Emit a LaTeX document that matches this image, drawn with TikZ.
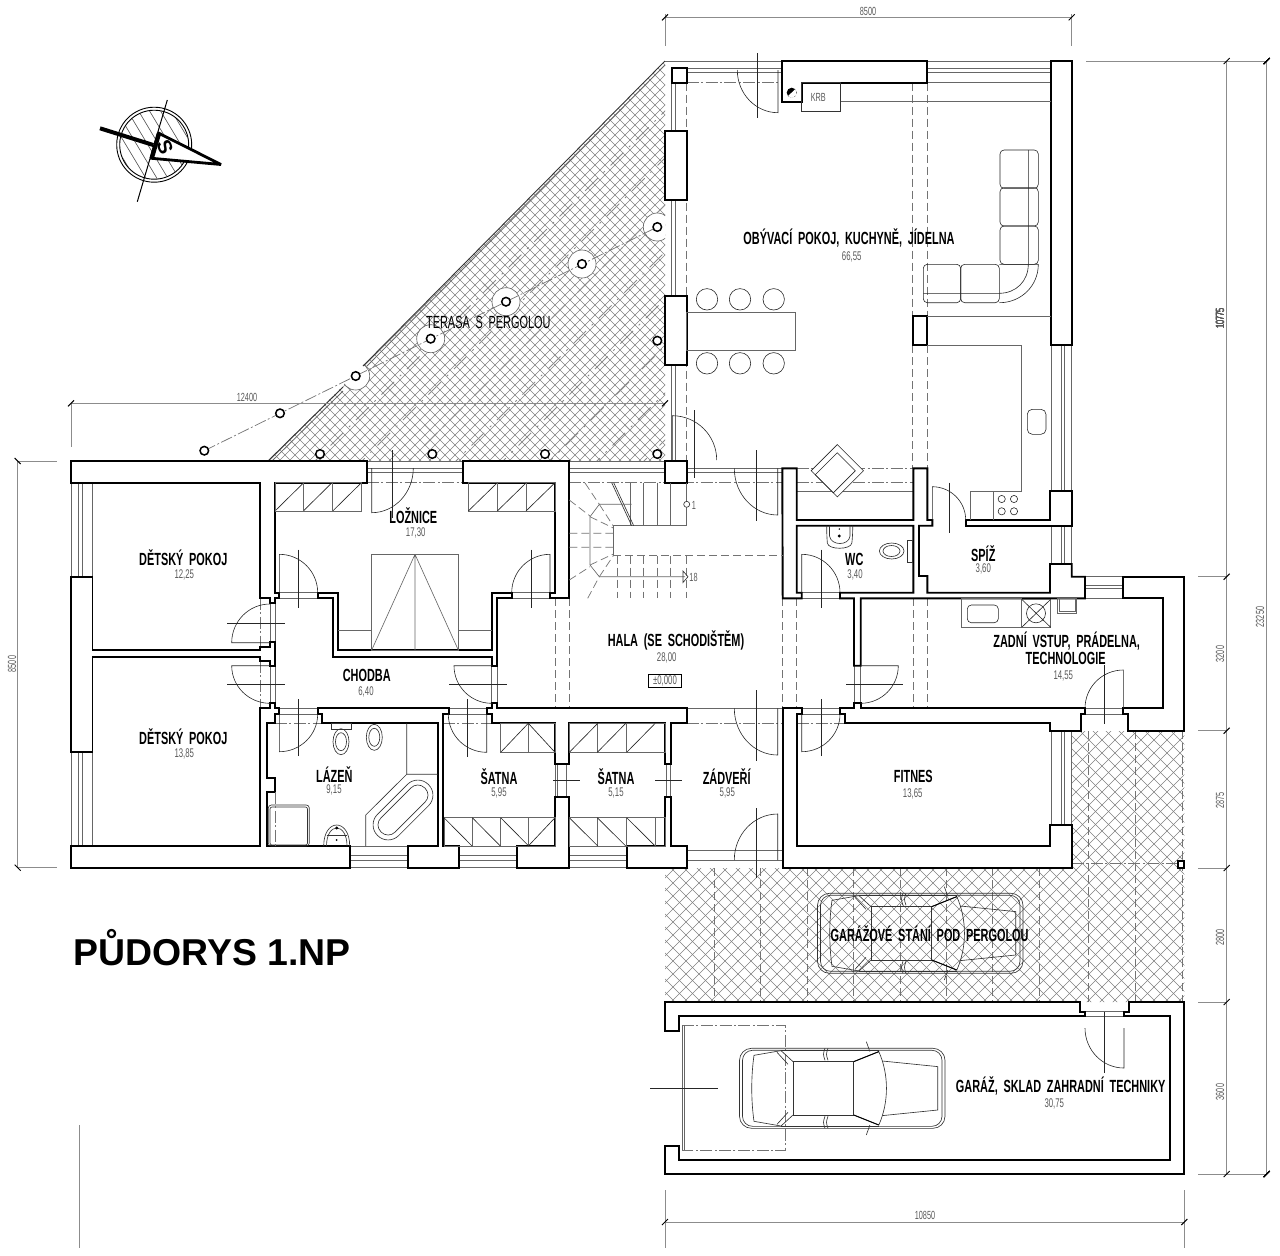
\documentclass[tikz,border=0pt]{standalone}
\usepackage{fontspec}
\setmainfont{Liberation Sans}
\newfontfamily\cadfont[FakeStretch=0.62,WordSpace=1.9]{Liberation Sans}

\tikzset{
  wall/.style = {draw, line width=.95pt, fill=white, line join=miter, miter limit=3},
  fine/.style = {draw=black!60, line width=.32pt},
  thin line/.style = {draw=black!80, line width=.32pt},
  swing/.style = {draw=black!85, line width=.3pt},
  gridline/.style = {draw=black!55, line width=.35pt, dash pattern=on 4pt off 2pt},
  axisline/.style = {draw=black!55, line width=.35pt, dash pattern=on 6pt off 1.2pt on 1pt off 1.2pt},
  hatchline/.style = {draw=black!50, line width=.2pt},
  dimline/.style = {draw=black!45, line width=.35pt},
  post/.style = {draw, line width=.75pt, fill=white},
  room/.style = {font=\cadfont\fontsize{8.8}{9}\selectfont\bfseries, inner sep=0pt},
  area/.style = {font=\cadfont\fontsize{6.3}{6.3}\selectfont, text=black!65, inner sep=0pt},
  dimtext/.style = {font=\cadfont\fontsize{5.9}{6}\selectfont, text=black!65, inner sep=0pt},
  car/.pic = {
    \draw[thin line, rounded corners=6pt] (-102.5,-40) rectangle (103,40);
    \draw[thin line, rounded corners=5pt] (-99.5,-38) rectangle (100,38);
    \draw[thin line] (-49,-26.7) rectangle (11.8,26.7);
    \draw[thin line] (11.8,-26.7) -- (36.8,-36.7) .. controls (47,-14) and (47,14) .. (36.8,36.7) -- (11.8,26.7);
    \draw[draw=black, line width=.5pt] (11.8,-26.7) -- (36.8,-36.7) (11.8,26.7) -- (36.8,36.7);
    \draw[thin line] (-49,-26.7) -- (-61,-37.7) -- (-88,-33) .. controls (-91,-12) and (-91,12) .. (-88,33) -- (-61,37.7) -- (-49,26.7);
    \draw[thin line] (-54,-24) -- (-65,-36) (-54,24) -- (-65,36);
    \draw[thin line] (-61,-37.7) -- (36.8,-37.7) (-61,37.7) -- (36.8,37.7);
    \draw[thin line] (40.4,-27.3) -- (95.7,-21.7) -- (95.7,21.7) -- (40.4,27.3);
    \draw[thin line] (24.3,-46.7) -- (27.9,-36.7) (24.3,46.7) -- (27.9,36.7);
    \draw[thin line] (-17,-40) .. controls (-19,-34) .. (-17,-28) (-14,-40) .. controls (-16,-34) .. (-14,-28);
    \draw[thin line] (-17,40) .. controls (-19,34) .. (-17,28) (-14,40) .. controls (-16,34) .. (-14,28);
  }
}

\newcommand{\doorswing}[6]{%
  \pgfmathsetmacro{\cax}{#3+.5523*(#5-#1)}%
  \pgfmathsetmacro{\cay}{#4+.5523*(#6-#2)}%
  \pgfmathsetmacro{\cbx}{#5+.5523*(#3-#1)}%
  \pgfmathsetmacro{\cby}{#6+.5523*(#4-#2)}%
  \pgfmathsetmacro{\axax}{(#1+#5)/2+1.12*(#3-#1)}%
  \pgfmathsetmacro{\axay}{(#2+#6)/2+1.12*(#4-#2)}%
  \pgfmathsetmacro{\axbx}{(#1+#5)/2-.4*(#3-#1)}%
  \pgfmathsetmacro{\axby}{(#2+#6)/2-.4*(#4-#2)}%
  \draw[swing] (#1,#2) -- (#3,#4) .. controls (\cax,\cay) and (\cbx,\cby) .. (#5,#6);
  \draw[swing] (\axax,\axay) -- (\axbx,\axby);
}
\newcommand{\dimtick}[2]{\draw[line width=.5pt] (#1-3,#2+3) -- (#1+3,#2-3);}

\begin{document}
\begin{tikzpicture}[x=.5pt, y=-.5pt]
    \useasboundingbox (0,0) rectangle (1280,1255);

    \begin{scope}
        \clip (665,61) -- (665,461) -- (268,461) -- cycle;
        \foreach \k in {-200,-190,...,610} \draw[hatchline] (\k,0) -- (\k+1300,1300);
        \foreach \k in {-580,-570,...,-170} \draw[hatchline] (\k,1300) -- (\k+1300,0);
        \foreach \k in {776,823,...,1110} \draw[draw=black!45, line width=.4pt, dash pattern=on 9pt off 4pt on 1pt off 4pt] (\k,0) -- (0,\k);
        \foreach \k in {-100,0,...,500} \draw[draw=black!45, line width=.35pt, dash pattern=on 5pt off 20pt] (\k,0) -- (\k+700,700);
        \foreach \x/\y in {430.7/338.7, 506/301.7, 582/264, 355.7/376, 657.3/227} \draw[fine, fill=white] (\x,\y) circle[radius=14];
    \end{scope}
    \draw[draw=black!80, line width=.45pt] (268,461) -- (343,387) (363,366) -- (665,61);
    \draw[draw=black!60, line width=.4pt] (272,461) -- (343,391) (367,366) -- (665,65);

    \begin{scope}
        \clip (665,868) -- (1071.7,868) -- (1071.7,731) -- (1184.3,731) -- (1184.3,1002) -- (665,1002) -- cycle;
        \foreach \k in {-340,-327,...,460} \draw[hatchline] (\k,0) -- (\k+1300,1300);
        \foreach \k in {230,243,...,890} \draw[hatchline] (\k,1300) -- (\k+1300,0);
        \foreach \x in {714.3,760.7,...,1060} \draw[gridline] (\x,868) -- (\x,1002);
        \foreach \x in {1088.6,1135.7,1182} \draw[gridline] (\x,731) -- (\x,1002);
        \draw[axisline] (1072,863) -- (1178,863);
    \end{scope}

    \draw[axisline] (204.3,450.7) -- (657.3,227);
    \foreach \x/\y in {204.3/450.7, 280/413.3, 355.7/376, 430.7/338.7, 506/301.7, 582/264, 657.3/227, 657.3/340.7, 320/454, 432.3/454, 545/454, 657.3/454} \draw[post] (\x,\y) circle[radius=4.3];

    \foreach \x in {71,78.3,82.3,92.3} \draw[fine] (\x,483) -- (\x,577) (\x,752) -- (\x,846);
    \foreach \y in {846,855,860,867.7} \draw[fine] (350,\y) -- (407.7,\y) (459,\y) -- (516.7,\y) (569.3,\y) -- (626.7,\y);
    \foreach \y in {850,860} \draw[fine] (686.7,\y) -- (782.7,\y);
    \foreach \y in {461,468,472} \draw[fine] (367,\y) -- (463,\y) (569,\y) -- (665,\y);
    \foreach \y in {468.3,472} \draw[fine] (686.7,\y) -- (782.3,\y);
    \foreach \y in {61,68.3,72.7} \draw[fine] (686,\y) -- (782,\y) (927,\y) -- (1051,\y);
    \draw[fine] (665,61) -- (686,61) (927,82.7) -- (1051,82.7);
    \foreach \x in {671.7,675} \draw[fine] (\x,82) -- (\x,131) (\x,200) -- (\x,296) (\x,365) -- (\x,461);
    \foreach \x in {1051.7,1061.7,1064.3,1071.7} \draw[fine] (\x,345) -- (\x,491) (\x,525.7) -- (\x,564) (\x,730.7) -- (\x,825);
    \foreach \y in {576.7,585,588.3,598.3} \draw[fine] (1085,\y) -- (1123.3,\y);
    \foreach \x in {491.7,497.3} \draw[fine] (\x,665.7) -- (\x,703.3);
    \foreach \x in {854,860.7} \draw[fine] (\x,665.7) -- (\x,703.3);
    \foreach \x in {666.7,670} \draw[fine] (\x,764) -- (\x,797.3);
    \foreach \x in {555,557.5,566.7} \draw[fine] (\x,764) -- (\x,830);
    \draw[fine] (275,598) -- (275,642) (275,665.7) -- (275,703.3) (270,603) -- (270,642) (270,665.7) -- (270,703.3);
    \foreach \y in {592.7,598.3} \draw[fine] (279.3,\y) -- (317.7,\y) (511.7,\y) -- (550,\y) (801.7,\y) -- (840,\y);
    \foreach \y in {708.3,714} \draw[fine] (279.3,\y) -- (317.7,\y) (449,\y) -- (486.7,\y) (801.7,\y) -- (840,\y) (1085,\y) -- (1123.3,\y);
    \foreach \y in {1011.7,1016} \draw[fine] (1085,\y) -- (1124,\y);
    \draw[fine] (686.7,708.3) -- (782.7,708.3) (796.7,491) -- (913,491);

    \draw[axisline] (260,598) -- (260,646) (260,661) -- (260,708);
    \draw[axisline] (367,482.7) -- (463,482.7) (569,482.7) -- (782,482.7) (796.7,482.7) -- (913,482.7) (796.7,468.3) -- (913,468.3);
    \draw[axisline] (275,723.3) -- (322,723.3) (443,723.3) -- (491.7,723.3) (686.7,723.3) -- (782.7,723.3) (796.7,723.3) -- (845,723.3);
    \draw[axisline] (686.7,82.7) -- (782,82.7);
    \draw[gridline] (686.7,82.7) -- (686.7,460);
    \draw[gridline] (912.7,82.7) -- (912.7,316) (927.3,82.7) -- (927.3,316) (912.7,345) -- (912.7,468) (927.3,345) -- (927.3,468);
    \foreach \x in {555,569.3,782.7,796.7,913.3,927.3} \draw[gridline] (\x,598.3) -- (\x,708.3);

    \draw[wall] (71,461) -- (367,461) -- (367,483) -- (275,483) -- (275,593) -- (279.3,593) -- (279.3,598.3) -- (275,598.3) -- (275,603.3) -- (270,603.3) -- (270,598.3) -- (260,598.3) -- (260,483) -- (71,483) -- cycle;
    \draw[wall] (71,576.7) -- (92.5,576.7) -- (92.5,650) -- (260,650) -- (260,646.7) -- (270,646.7) -- (270,642) -- (274.7,642) -- (274.7,665.7) -- (270,665.7) -- (270,660.7) -- (260,660.7) -- (260,656.7) -- (92.5,656.7) -- (92.5,751.7) -- (71,751.7) -- cycle;
    \draw[wall] (71,846) -- (260,846) -- (260,708.3) -- (270,708.3) -- (270,703.3) -- (274.7,703.3) -- (274.7,708.3) -- (279.3,708.3) -- (279.3,714) -- (274.7,714) -- (274.7,723.3) -- (266.7,723.3) -- (266.7,777.7) -- (274.7,777.7) -- (274.7,792) -- (266.7,792) -- (266.7,846) -- (350,846) -- (350,867.7) -- (71,867.7) -- cycle;
    \draw[wall] (407.7,867.7) -- (459,867.7) -- (459,846) -- (443.3,846) -- (443.3,714) -- (449,714) -- (449,708.3) -- (317.7,708.3) -- (317.7,714) -- (322.3,714) -- (322.3,723.3) -- (437.7,723.3) -- (437.7,846) -- (407.7,846) -- cycle;
    \draw[wall] (463,461) -- (569.3,461) -- (569.3,598.3) -- (550,598.3) -- (550,592.7) -- (555,592.7) -- (555,483) -- (463,483) -- cycle;
    \draw[wall] (665,461) rectangle (686.7,482.7);
    \draw[wall] (338.3,592.7) -- (320,592.7) -- (317.7,592.7) -- (317.7,598.3) -- (332.7,598.3) -- (332.7,656.7) -- (491.7,656.7) -- (491.7,665.7) -- (497.3,665.7) -- (497.3,598.3) -- (511.7,598.3) -- (511.7,592.7) -- (491.7,592.7) -- (491.7,650) -- (338.3,650) -- cycle;
    \draw[wall] (491.7,703.3) -- (497.3,703.3) -- (497.3,708.3) -- (686.7,708.3) -- (686.7,723.3) -- (670.7,723.3) -- (670.7,764) -- (665,764) -- (665,723.3) -- (569.3,723.3) -- (569.3,764) -- (555,764) -- (555,723.3) -- (491.7,723.3) -- (491.7,714) -- (486.7,714) -- (486.7,708.3) -- (491.7,708.3) -- cycle;
    \draw[wall] (516.7,867.7) -- (569.3,867.7) -- (569.3,797.3) -- (555,797.3) -- (555,846) -- (516.7,846) -- cycle;
    \draw[wall] (626.7,846) -- (665,846) -- (665,797.3) -- (670.7,797.3) -- (670.7,846) -- (686.7,846) -- (686.7,867.7) -- (626.7,867.7) -- cycle;
    \draw[wall] (782.3,468.3) -- (796.7,468.3) -- (796.7,520) -- (913.3,520) -- (913.3,468.3) -- (927.3,468.3) -- (927.3,520) -- (932.3,520) -- (932.3,525.7) -- (919,525.7) -- (919,576) -- (927.3,576) -- (927.3,592.7) -- (1050,592.7) -- (1050,564) -- (1071.7,564) -- (1071.7,576.7) -- (1085,576.7) -- (1085,598.3) -- (860.7,598.3) -- (860.7,665.7) -- (854,665.7) -- (854,598.3) -- (840,598.3) -- (840,592.7) -- (913.3,592.7) -- (913.3,525.7) -- (796.7,525.7) -- (796.7,592.7) -- (801.7,592.7) -- (801.7,598.3) -- (782.7,598.3) -- cycle;
    \draw[wall] (965.7,520) -- (1050,520) -- (1050,491) -- (1071.7,491) -- (1071.7,525.7) -- (965.7,525.7) -- cycle;
    \draw[wall] (1123.3,576.7) -- (1184.3,576.7) -- (1184.3,730.7) -- (1128.3,730.7) -- (1128.3,714) -- (1123.3,714) -- (1123.3,708.3) -- (1163.3,708.3) -- (1163.3,598.3) -- (1123.3,598.3) -- cycle;
    \draw[wall] (782.7,708.3) -- (801.7,708.3) -- (801.7,714) -- (796.7,714) -- (796.7,846) -- (1050,846) -- (1050,825) -- (1071.7,825) -- (1071.7,867.7) -- (782.7,867.7) -- cycle;
    \draw[wall] (840,708.3) -- (854,708.3) -- (854,703.3) -- (860.7,703.3) -- (860.7,708.3) -- (1085,708.3) -- (1085,714) -- (1081,714) -- (1081,730.7) -- (1050,730.7) -- (1050,723.3) -- (845,723.3) -- (845,714) -- (840,714) -- cycle;
    \draw[wall] (782.3,61) -- (927.3,61) -- (927.3,82.7) -- (801.7,82.7) -- (801.7,102.3) -- (782.3,102.3) -- cycle;
    \draw[wall] (1050.7,61) rectangle (1071.7,345);
    \draw[wall] (665,130.7) rectangle (686.7,200);
    \draw[wall] (665,295.7) rectangle (686.7,365.3);
    \draw[wall] (672.3,68.3) rectangle (686.7,82.7);
    \draw[wall] (912.7,316) rectangle (927.3,345);
    \draw[wall] (1177.7,861) rectangle (1184.3,867.7);
    \draw[wall] (665,1030.7) -- (665,1002) -- (1080.4,1002) -- (1080.4,1011.7) -- (1085,1011.7) -- (1085,1016) -- (678.6,1016) -- (678.6,1030.7) -- cycle;
    \draw[wall] (1128.6,1002) -- (1184.3,1002) -- (1184.3,1174) -- (665,1174) -- (665,1145.7) -- (678.6,1145.7) -- (678.6,1160) -- (1170.4,1160) -- (1170.4,1016) -- (1124,1016) -- (1124,1011.7) -- (1128.6,1011.7) -- cycle;
    \fill (791.7,92.7) circle[radius=5];
    \fill[white] (788,96) -- (795.5,89) -- (796.5,95) -- (792,98) -- cycle;

    \doorswing{270}{642.7}{231.7}{642.7}{270}{604}
    \doorswing{270}{665.7}{231.7}{665.7}{270}{703.3}
    \doorswing{279.3}{592.7}{279.3}{554.3}{317.7}{592.7}
    \doorswing{279.3}{714}{279.3}{751.7}{317.7}{714}
    \doorswing{371.7}{468}{371.7}{512.7}{413.3}{468}
    \doorswing{550}{592.7}{550}{554.3}{511.7}{592.7}
    \doorswing{491.7}{665.7}{454}{665.7}{491.7}{703.3}
    \doorswing{486.7}{714}{486.7}{752.3}{448.3}{714}
    \doorswing{777.7}{468.3}{777.7}{515}{734.3}{468.3}
    \doorswing{777.7}{708.3}{777.7}{755}{734.3}{708.3}
    \doorswing{777.7}{860}{777.7}{814}{734.3}{860}
    \doorswing{801.7}{592.7}{801.7}{554.3}{840}{592.7}
    \doorswing{801.7}{714}{801.7}{751.7}{840}{714}
    \doorswing{860.7}{665.7}{898.3}{665.7}{860.7}{703.3}
    \doorswing{1123.3}{708.3}{1123.3}{670}{1085}{708.3}
    \doorswing{932.3}{520}{932.3}{486.7}{965.7}{520}
    \doorswing{672.3}{460}{672.3}{415.7}{716.7}{460}
    \doorswing{778}{70}{778}{112.7}{737.3}{70}
    \doorswing{1124}{1028}{1124}{1068}{1085}{1028}
    \draw[swing] (553,780.7) -- (580,780.7) (655,780.7) -- (681.7,780.7);

    \foreach \x in {275,303.3,332.7} \draw[fine, draw=black!85] (\x,511) -- (\x+28.7,482.7);
    \draw[fine] (275,482.7) rectangle (361.7,511);
    \foreach \x in {303.3,332.7} \draw[fine] (\x,482.7) -- (\x,511);
    \draw[fine] (468.3,482.7) rectangle (555,511);
    \foreach \x in {497.3,526} \draw[fine] (\x,482.7) -- (\x,511);
    \foreach \x in {468.3,497.3,526} \draw[fine, draw=black!85] (\x,511) -- (\x+29,482.7);
    \draw[fine] (500.7,723.3) rectangle (555,752.3) (528.3,723.3) -- (528.3,752.3);
    \draw[fine, draw=black!85] (500.7,752.3) -- (528.3,723.3) -- (555,752.3);
    \draw[fine] (569.3,723.3) rectangle (665,752.3);
    \foreach \x in {597.3,626.7} \draw[fine] (\x,723.3) -- (\x,752.3);
    \foreach \x in {569.3,597.3,626.7} \draw[fine, draw=black!85] (\x,752.3) -- (\x+28.5,723.3);
    \draw[fine] (444,817.7) rectangle (555,846);
    \foreach \x in {472.3,500.7,528.3} \draw[fine] (\x,817.7) -- (\x,846);
    \foreach \x in {444,472.3,500.7} \draw[fine, draw=black!85] (\x,817.7) -- (\x+28,846);
    \draw[fine, draw=black!85] (528.3,846) -- (555,817.7);
    \draw[fine] (569.3,817.7) rectangle (665,846);
    \foreach \x in {597.3,626.7,655} \draw[fine] (\x,817.7) -- (\x,846);
    \foreach \x in {569.3,597.3,626.7} \draw[fine, draw=black!85] (\x,817.7) -- (\x+28.5,846);

    \draw[fine] (371.7,554.3) rectangle (458.3,650);
    \draw[fine] (415,554.3) -- (415,650) (415,554.3) -- (371.7,650) (415,554.3) -- (458.3,650);
    \draw[fine] (338.3,630.7) -- (371.7,630.7) (458.3,630.7) -- (491.7,630.7);

    \draw[thin line] (331.7,723.3) rectangle (351.7,729);
    \draw[thin line] (341,741.7) ellipse[x radius=8, y radius=13] (341,741.7) ellipse[x radius=5.5, y radius=9];
    \draw[thin line] (374.3,737.3) ellipse[x radius=8, y radius=13] (374.3,737.3) ellipse[x radius=5.5, y radius=9];
    \draw[thin line] (406.7,723.3) -- (406.7,774.3) -- (437.7,774.3) (406.7,774.3) -- (365.7,815) -- (365.7,846);
    \draw[thin line, rotate around={45:(403,810)}, rounded corners=7.4pt] (367,795) rectangle (439,825);
    \draw[thin line, rotate around={45:(403,810)}, rounded corners=4.8pt] (372,800) rectangle (434,820);
    \draw[thin line, rounded corners=1.5pt] (268.3,805) rectangle (309.3,846);
    \draw[thin line, rounded corners=1pt] (270,807) rectangle (307.5,845);
    \draw[axisline] (275,792) -- (275,846);
    \draw[thin line] (323.7,846) .. controls (323.7,818) and (349.7,818) .. (349.7,846);
    \draw[thin line] (326.5,846) .. controls (326.5,822) and (347,822) .. (347,846);
    \draw[thin line] (326.5,835) -- (347,835);
    \fill (336.7,828) circle[radius=1.6] (336.7,840) circle[radius=1];

    \draw[thin line] (801.7,82.7) rectangle (840.7,111.7);
    \node (krb) at (818.3,97.7) [dimtext] {KRB};
    \draw[fine] (840.7,101.7) -- (1050.7,101.7);

    \foreach \y in {150,187.7,226} \draw[swing, rounded corners=2pt] (1000,\y) rectangle (1038.3,\y+38.3);
    \draw[swing, rounded corners=2pt] (923.3,264.3) rectangle (960.7,302.7);
    \draw[swing, rounded corners=2pt] (960.7,264.3) rectangle (999.3,302.7);
    \draw[swing] (999.3,264.3) -- (1038.3,264.3) .. controls (1038.3,286) and (1021,302.7) .. (999.3,302.7);
    \draw[swing] (1028.3,150) -- (1028.3,264.3) .. controls (1028.3,281) and (1016,293.3) .. (999.3,293.3) -- (923.3,293.3);

    \draw[fine] (686.7,312.3) rectangle (795.7,350);
    \foreach \x in {707,740,773.7} \draw[swing] (\x,299.3) circle[radius=10.7] (\x,363.3) circle[radius=10.7];

    \draw[fine] (927.3,316) -- (1050.7,316) (927.3,345) -- (1021.7,345) -- (1021.7,491) -- (970,491) -- (970,520);
    \draw[fine] (993.3,491) -- (993.3,520);
    \foreach \x/\y in {1001.7/499, 1014/499, 1001.7/511.3, 1014/511.3} \draw[swing] (\x,\y) circle[radius=3.6];
    \draw[swing, rounded corners=2.5pt] (1027.3,409.3) rectangle (1046,434.3);

    \draw[swing, fill=white, rotate around={45:(837.3,470.7)}] (818.8,452.2) rectangle (855.8,489.2);
    \draw[swing, rotate around={45:(837.3,470.7)}] (818.8,458) rectangle (850,483.5);

    \draw[fine] (613.3,525.7) -- (686.7,525.7) (686.7,482.7) -- (686.7,525.7);
    \foreach \x in {630,643,657,670} \draw[fine] (\x,482.7) -- (\x,525.7);
    \draw[thin line] (611.7,482.7) -- (631.7,525.7) (613.7,482.7) -- (633.7,525.7);
    \draw[fine] (631.7,504.3) -- (599.3,504.3) -- (590,516.7) -- (590,565) -- (599.3,576.7) -- (685,576.7);
    \draw[fine] (613.3,526) -- (613.3,555.7);
    \draw[gridline] (613.3,555.7) -- (782.7,555.7);
    \foreach \x in {617,630,643,657,670,686.7} \draw[gridline] (\x,555.7) -- (\x,598.3);
    \draw[gridline] (569.3,500) -- (590,516) (585,483) -- (599.3,504.3) (569.3,533.3) -- (613.3,533.3) (569.3,547.3) -- (613.3,547.3) (569.3,580) -- (590,566.7) (587.7,598.3) -- (599.3,576.7) (590,516.7) -- (613.3,528) (590,565) -- (613.3,554) (599.3,504.3) -- (613.3,526) (599.3,576.7) -- (613.3,555.7);
    \draw[thin line, fill=white] (686.7,504.3) circle[radius=3];
    \draw[thin line] (683,576.7) -- (683,571) -- (688,576.7) -- (683,582.5) -- cycle;
    \node (stepone) at (694,505) [dimtext] {1};
    \node (steplast) at (693.5,577.3) [dimtext] {18};

    \draw[fine] (961.7,598.3) rectangle (1021.7,627.3);
    \draw[swing, rounded corners=2pt] (967.3,605) rectangle (998.3,622.7);
    \draw[fine] (1021.7,599.3) rectangle (1050.7,627.3);
    \draw[swing] (1021.7,599.3) -- (1050.7,627.3) (1021.7,627.3) -- (1050.7,599.3);
    \draw[swing] (1036,613.3) circle[radius=9.5];
    \draw[fine] (1057.3,598.3) rectangle (1076.7,613.3) (1059,598.3) rectangle (1075,611);

    \draw[thin line, rounded corners=3.5pt] (826.7,525.7) -- (826.7,536) .. controls (828,550) and (851,550) .. (852.7,536) -- (852.7,525.7);
    \draw[thin line] (829.5,525.7) -- (829.5,536) .. controls (831,546) and (849,546) .. (850,536) -- (850,525.7);
    \fill (839.3,536) circle[radius=1.6] (839.3,529) circle[radius=.8];
    \draw[thin line] (891.7,551) ellipse[x radius=12.3, y radius=8] (891.5,551) ellipse[x radius=8.5, y radius=5.5];
    \draw[thin line] (907.3,540) rectangle (912.7,562.7);

    \draw[axisline] (682,1025) -- (785,1025) -- (785,1150) -- (682,1150);
    \draw[fine] (682,1025) -- (682,1150) (684,1025) -- (684,1150);
    \draw[swing] (650,1088.3) -- (717.9,1088.3);

    \pic (carone) at (920,933.3) {car};
    \pic (cartwo) at (842,1088.3) {car};

    \draw[dimline] (665,17.3) -- (1071.7,17.3) (665,14) -- (665,46) (1071.7,14) -- (1071.7,46);
    \dimtick{665}{17.3} \dimtick{1071.7}{17.3}
    \node (wtop) at (868,11.7) [dimtext] {8500};
    \draw[dimline] (665,1222) -- (1184.3,1222) (665,1190) -- (665,1248) (1184.3,1190) -- (1184.3,1248);
    \dimtick{665}{1222} \dimtick{1184.3}{1222}
    \node (wbot) at (925,1215) [dimtext] {10850};
    \draw[dimline] (71,403.3) -- (665,403.3) (71,403.3) -- (71,447);
    \dimtick{71}{403.3} \dimtick{665}{403.3}
    \node (wter) at (247,397) [dimtext] {12400};
    \draw[dimline] (17.7,461) -- (17.7,867.7) (17.7,461) -- (57,461) (17.7,867.7) -- (57,867.7);
    \draw[line width=.5pt] (14.7,458) -- (20.7,464) (14.7,864.7) -- (20.7,870.7);
    \node (hleft) at (12,664) [dimtext, rotate=90] {8500};
    \draw[dimline] (1226.7,61) -- (1226.7,1174) (1266.7,61) -- (1266.7,1174) (1086,61) -- (1266.7,61) (1198,1174) -- (1266.7,1174);
    \foreach \y in {576.7,730.7,868,1002} \draw[dimline] (1198,\y) -- (1226.7,\y);
    \foreach \y in {61,576.7,730.7,868,1002,1174} \dimtick{1226.7}{\y}
    \dimtick{1266.7}{61} \dimtick{1266.7}{1174}
    \node (hone) at (1220,318.5) [dimtext, rotate=90] {10775};
    \node (htwo) at (1220,654) [dimtext, rotate=90] {3200};
    \node (hthree) at (1220,800.7) [dimtext, rotate=90] {2875};
    \node (hfour) at (1220,937.6) [dimtext, rotate=90] {2800};
    \node (hfive) at (1220,1092) [dimtext, rotate=90] {3600};
    \node (hall) at (1260,617) [dimtext, rotate=90] {23250};
    \draw[dimline] (79.3,1125) -- (79.3,1248);

    \begin{scope}
        \clip (154.2,144.7) circle[radius=34];
        \foreach \k in {-60,-49,...,380} \draw[draw=black!70, line width=.3pt] (\k,0) -- (\k+120,200);
    \end{scope}
    \draw[line width=.45pt] (154.2,144.7) circle[radius=37.5] (154.2,144.7) circle[radius=34.5];
    \draw[line width=.5pt] (167.3,100) -- (137.3,201.7);
    \draw[line width=2pt] (100,128.3) -- (153.3,145);
    \draw[wall, line width=1.4pt, miter limit=2] (159,133.3) -- (221,164.5) -- (151.7,158.3) -- cycle;
    \draw[line width=2.2pt] (159,133.3) -- (151.7,158.3);
    \node (north) at (165,146.7) [rotate=-68, font=\fontsize{10}{10}\selectfont\bfseries, inner sep=0pt] {S};

    \node (roomkida) at (183.3,557.3) [room] {DĚTSKÝ POKOJ};
    \node (areakida) at (184.3,575) [area] {12,25};
    \node (roomkidb) at (183.3,736.7) [room] {DĚTSKÝ POKOJ};
    \node (areakidb) at (184.3,754) [area] {13,85};
    \node (roombed) at (413.3,516) [room] {LOŽNICE};
    \node (areabed) at (415.7,533) [area] {17,30};
    \node (roomcor) at (366.7,675) [room] {CHODBA};
    \node (areacor) at (366,692) [area] {6,40};
    \node (roombath) at (334.3,774.5) [room] {LÁZEŇ};
    \node (areabath) at (334,790) [area] {9,15};
    \node (roomhall) at (676,640) [room] {HALA (SE SCHODIŠTĚM)};
    \node (areahall) at (666.7,658) [area] {28,00};
    \node (level) at (665,681) [area, draw=black, line width=.4pt, minimum width=16.7pt, minimum height=6.3pt] {±0,000};
    \node (roomwarda) at (499,777) [room] {ŠATNA};
    \node (areawarda) at (499,792.5) [area] {5,95};
    \node (roomwardb) at (616,777) [room] {ŠATNA};
    \node (areawardb) at (616,792.5) [area] {5,15};
    \node (roomentry) at (726.7,777) [room] {ZÁDVEŘÍ};
    \node (areaentry) at (727.3,792.5) [area] {5,95};
    \node (roomwc) at (854.3,559.5) [room] {WC};
    \node (areawc) at (855,574.5) [area] {3,40};
    \node (roomspiz) at (983.3,553.5) [room] {SPÍŽ};
    \node (areaspiz) at (983.3,569) [area] {3,60};
    \node (roomback) at (1066.7,641) [room] {ZADNÍ VSTUP, PRÁDELNA,};
    \node (roombackb) at (1065.7,658.5) [room] {TECHNOLOGIE};
    \node (areaback) at (1063.3,675.5) [area] {14,55};
    \node (roomfit) at (913.3,776.7) [room] {FITNES};
    \node (areafit) at (912.7,794) [area] {13,65};
    \node (roomliving) at (849,238.3) [room] {OBÝVACÍ POKOJ, KUCHYNĚ, JÍDELNA};
    \node (arealiving) at (851.7,256.5) [area] {66,55};
    \node (roomter) at (488.3,322.3) [room, font=\cadfont\fontsize{8.8}{9}\selectfont] {TERASA S PERGOLOU};
    \node (roomcarport) at (929.6,933.3) [room] {GARÁŽOVÉ STÁNÍ POD PERGOLOU};
    \node (roomgarage) at (1060.7,1086) [room] {GARÁŽ, SKLAD ZAHRADNÍ TECHNIKY};
    \node (areagarage) at (1054.3,1103.5) [area] {30,75};
    \node (title) at (73,965) [anchor=base west, inner sep=0pt, font=\fontsize{18.7}{20}\selectfont\bfseries] {PŮDORYS 1.NP};
\end{tikzpicture}
\end{document}
